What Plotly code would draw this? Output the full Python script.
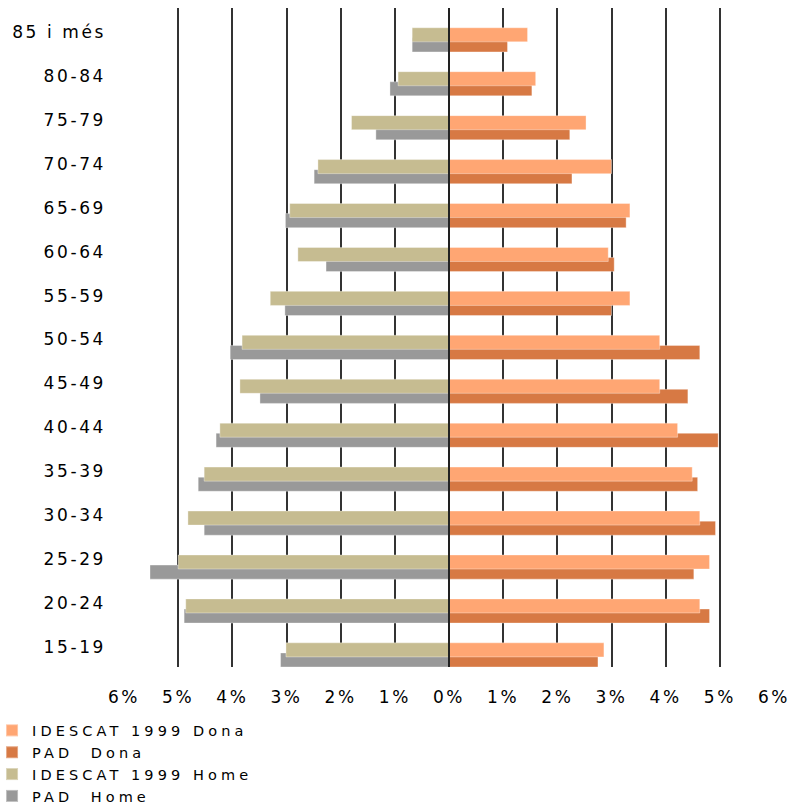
import plotly.graph_objects as go

# Age groups (bottom to top)
categories = ["15-19", "20-24", "25-29", "30-34", "35-39", "40-44", "45-49",
              "50-54", "55-59", "60-64", "65-69", "70-74", "75-79", "80-84", "85 i més"]

# Percentages, same order as categories
idescat_dona = [2.86, 4.63, 4.81, 4.63, 4.49, 4.22, 3.89, 3.89, 3.34, 2.94, 3.34, 3.00, 2.53, 1.60, 1.45]
pad_dona     = [2.75, 4.81, 4.52, 4.92, 4.59, 4.97, 4.41, 4.63, 3.00, 3.05, 3.27, 2.27, 2.23, 1.53, 1.08]
idescat_home = [3.01, 4.86, 5.00, 4.82, 4.52, 4.23, 3.86, 3.82, 3.30, 2.79, 2.94, 2.42, 1.80, 0.94, 0.68]
pad_home     = [3.11, 4.89, 5.52, 4.52, 4.63, 4.30, 3.49, 4.04, 3.03, 2.27, 3.02, 2.49, 1.35, 1.09, 0.68]

tick_vals = [-6, -5, -4, -3, -2, -1, 0, 1, 2, 3, 4, 5, 6]
tick_text = ["6%", "5%", "4%", "3%", "2%", "1%", "0%", "1%", "2%", "3%", "4%", "5%", "6%"]

COL_ID_DONA = "#FFA673"
COL_PAD_DONA = "#D77944"
COL_ID_HOME = "#C6BC91"
COL_PAD_HOME = "#999999"

FONT = "DejaVu Sans"
TXT = "#000000"
BAR_W = 0.32
PAD_OFF = -0.5
ID_OFF = -0.27

fig = go.Figure()

def add(name, values, color, offset, rank, sign):
    fig.add_trace(go.Bar(
        name=name,
        y=categories,
        x=[sign * v for v in values],
        orientation="h",
        width=BAR_W,
        offset=offset,
        marker=dict(color=color, line=dict(width=1, color="rgba(255,255,255,0.35)")),
        legendrank=rank,
        customdata=values,
        hovertemplate="%{y}: %{customdata:.2f}%<extra>" + name + "</extra>",
    ))

# PAD bars drawn first so IDESCAT bars sit on top of them
add("PAD  Dona", pad_dona, COL_PAD_DONA, PAD_OFF, 2, 1)
add("PAD  Home", pad_home, COL_PAD_HOME, PAD_OFF, 4, -1)
add("IDESCAT 1999 Dona", idescat_dona, COL_ID_DONA, ID_OFF, 1, 1)
add("IDESCAT 1999 Home", idescat_home, COL_ID_HOME, ID_OFF, 3, -1)

fig.update_layout(
    width=792, height=806,
    margin=dict(l=124, r=18, t=8, b=139, autoexpand=False),
    barmode="overlay",
    paper_bgcolor="white",
    plot_bgcolor="white",
    font=dict(family=FONT, size=17, color=TXT),
    showlegend=True,
    legend=dict(
        x=-0.203, xanchor="left",
        y=-0.072, yanchor="top",
        orientation="v",
        traceorder="normal",
        font=dict(family=FONT, size=14.5, color=TXT),
        itemsizing="constant",
        tracegroupgap=0,
        bgcolor="rgba(0,0,0,0)",
    ),
    xaxis=dict(
        range=[-6, 6],
        tickvals=tick_vals,
        ticktext=tick_text,
        showgrid=True,
        gridcolor="#333333",
        gridwidth=2,
        zeroline=False,
        showline=False,
        ticks="",
        ticklabelstandoff=18,
        tickfont=dict(family=FONT, size=17, color=TXT),
        fixedrange=True,
    ),
    yaxis=dict(
        type="category",
        categoryorder="array",
        categoryarray=categories,
        range=[-0.5, len(categories) - 0.5],
        showgrid=False,
        zeroline=False,
        showline=False,
        ticks="",
        ticklabelstandoff=17,
        ticklabelshift=2,
        tickfont=dict(family=FONT, size=17, color=TXT),
        fixedrange=True,
    ),
    shapes=[dict(type="line", xref="x", yref="paper", x0=0, x1=0, y0=0, y1=1,
                 line=dict(color="#222222", width=2), layer="above")],
)

post = """
document.body.style.margin = '0';
var gd = document.getElementById('{plot_id}');
function spaceText(){
  gd.querySelectorAll('.xtick text, .ytick text').forEach(function(t){ t.style.letterSpacing = '2.6px'; });
  gd.querySelectorAll('.legend text').forEach(function(t){ t.style.letterSpacing = '4.1px'; });
  gd.querySelectorAll('.legend [clip-path]').forEach(function(e){ e.removeAttribute('clip-path'); });
}
spaceText();
if (gd.on) { gd.on('plotly_afterplot', spaceText); }
setTimeout(spaceText, 50);
"""

fig.write_html("out.html", post_script=post, config={"displayModeBar": False})
